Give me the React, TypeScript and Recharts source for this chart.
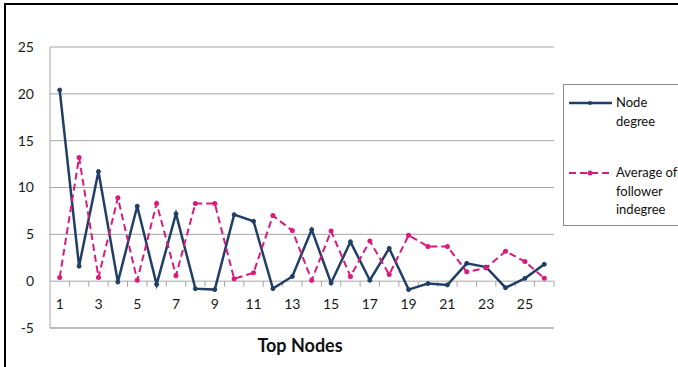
import React from 'react';
import { LineChart, Line, XAxis, YAxis, CartesianGrid, ReferenceLine } from 'recharts';

const nodes = [1, 2, 3, 4, 5, 6, 7, 8, 9, 10, 11, 12, 13, 14, 15, 16, 17, 18, 19, 20, 21, 22, 23, 24, 25, 26];
const nodeDegree = [20.4, 1.6, 11.7, -0.1, 8.0, -0.35, 7.2, -0.8, -0.9, 7.1, 6.4, -0.8, 0.5, 5.5, -0.2, 4.2, 0.1, 3.5, -0.9, -0.25, -0.4, 1.9, 1.5, -0.7, 0.3, 1.8];
const followerIndegree = [0.4, 13.2, 0.4, 8.9, 0.1, 8.3, 0.6, 8.3, 8.3, 0.25, 0.9, 7.0, 5.4, 0.1, 5.35, 0.5, 4.3, 0.7, 4.9, 3.7, 3.7, 1.0, 1.4, 3.2, 2.1, 0.3];
const xTickLabels = [1, 3, 5, 7, 9, 11, 13, 15, 17, 19, 21, 23, 25];
const yTicks = [-5, 0, 5, 10, 15, 20, 25];
const seriesNames = ['Node degree', 'Average of follower indegree'];

const data = nodes.map((n, i) => ({ node: n, degree: nodeDegree[i], follower: followerIndegree[i] }));
const boundaries = nodes.map((n) => n + 0.5);

const NAVY = '#213F66';
const PINK = '#DA1A7C';
const GRID = '#A6A6A6';
const FONT = 'Lato, "Open Sans", sans-serif';

const XTick = (props: any) => {
  const { x, y, payload } = props;
  return (
    <text x={x} y={y - 24} dy="0.35em" textAnchor="middle" fontFamily={FONT} fontSize={14} fill="#1a1a1a">
      {payload.value}
    </text>
  );
};

const LegendBox = () => (
  <div
    style={{
      position: 'absolute',
      left: 563,
      top: 84,
      width: 120,
      height: 142,
      border: '1px solid #8C8C8C',
      borderRight: 'none',
      boxSizing: 'border-box',
      background: '#fff',
      fontFamily: FONT,
      fontSize: 13,
      color: '#111',
      lineHeight: '19px',
    }}
  >
    <svg style={{ position: 'absolute', left: 5, top: 12 }} width={43} height={12}>
      <line x1={0} y1={6} x2={43} y2={6} stroke={NAVY} strokeWidth={2.5} />
      <circle cx={21} cy={6} r={2} fill={NAVY} />
    </svg>
    <div style={{ position: 'absolute', left: 52, top: 8 }}>
      Node
      <br />
      degree
    </div>
    <svg style={{ position: 'absolute', left: 5, top: 82 }} width={43} height={12}>
      <line x1={0} y1={6} x2={43} y2={6} stroke={PINK} strokeWidth={2} strokeDasharray="7 4" />
      <circle cx={21} cy={6} r={2.5} fill={PINK} />
    </svg>
    <div style={{ position: 'absolute', left: 52, top: 78, lineHeight: '18.5px' }}>
      Average of
      <br />
      follower
      <br />
      indegree
    </div>
  </div>
);

export default function App() {
  return (
    <div style={{ position: 'absolute', left: 0, top: 0, width: 678, height: 367, background: '#fff', overflow: 'hidden' }}>
      <div
        style={{
          position: 'absolute',
          left: 4,
          top: 3,
          width: 674,
          height: 364,
          borderTop: '2px solid #000',
          borderLeft: '2px solid #000',
          boxSizing: 'border-box',
        }}
      />
      <LineChart width={678} height={367} data={data} margin={{ top: 47, right: 124, bottom: 19, left: 0 }}>
        <CartesianGrid vertical={false} stroke={GRID} strokeWidth={1} />
        <XAxis
          type="number"
          dataKey="node"
          domain={[0.5, 26.5]}
          ticks={xTickLabels}
          interval={0}
          tickLine={false}
          tickSize={0}
          tickMargin={0}
          height={20}
          axisLine={{ stroke: GRID }}
          tick={XTick}
        />
        <YAxis
          domain={[-5, 25]}
          ticks={yTicks}
          interval={0}
          width={50}
          tickLine={false}
          tickSize={0}
          tickMargin={16}
          axisLine={{ stroke: GRID }}
          tick={{ fontFamily: FONT, fontSize: 14, fill: '#1a1a1a' }}
        />
        {boundaries.map((b) => (
          <ReferenceLine
            key={b}
            segment={[
              { x: b, y: 0 },
              { x: b, y: -0.6 },
            ]}
            stroke={GRID}
          />
        ))}
        <Line
          type="linear"
          dataKey="degree"
          name={seriesNames[0]}
          stroke={NAVY}
          strokeWidth={2.5}
          dot={{ r: 2, fill: NAVY, stroke: NAVY, strokeWidth: 1 }}
          isAnimationActive={false}
        />
        <Line
          type="linear"
          dataKey="follower"
          name={seriesNames[1]}
          stroke={PINK}
          strokeWidth={2}
          strokeDasharray="7 4"
          dot={{ r: 2.5, fill: PINK, stroke: PINK, strokeWidth: 0, strokeDasharray: '' }}
          isAnimationActive={false}
        />
      </LineChart>
      <LegendBox />
      <div
        style={{
          position: 'absolute',
          left: 300,
          top: 334,
          transform: 'translateX(-50%)',
          fontFamily: FONT,
          fontWeight: 700,
          fontSize: 18,
          color: '#111',
          whiteSpace: 'nowrap',
        }}
      >
        Top Nodes
      </div>
    </div>
  );
}
